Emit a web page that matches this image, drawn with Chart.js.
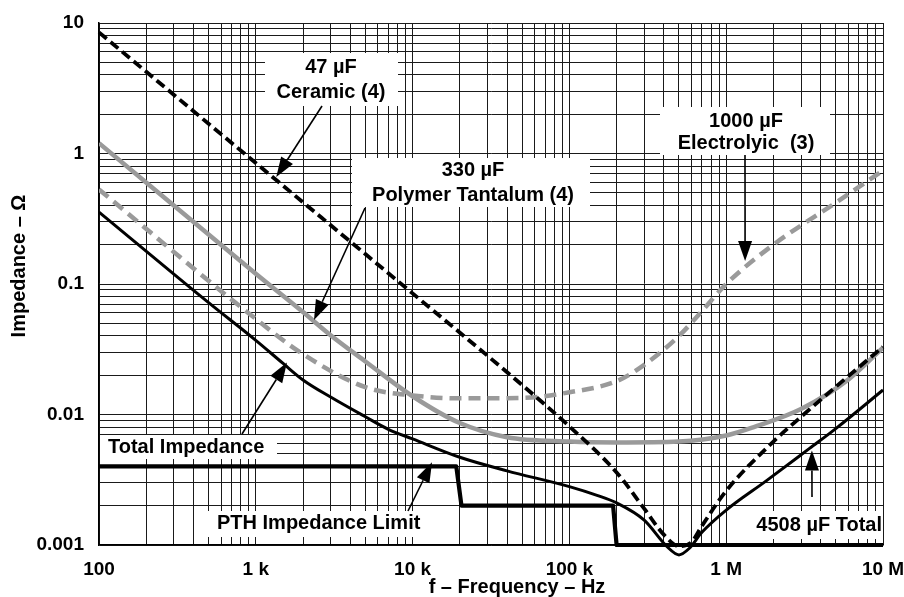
<!DOCTYPE html>
<html>
<head>
<meta charset="utf-8">
<script src="https://cdn.jsdelivr.net/npm/chart.js@4.4.0/dist/chart.umd.min.js"></script>
<style>
  html, body { margin: 0; padding: 0; background: #fff; }
</style>
</head>
<body>
<canvas id="chart" width="904" height="597"></canvas>
<script>
// axis decades and their labels
const xDecades = [100, 1e3, 1e4, 1e5, 1e6, 1e7];
const xTickLabels = ['100', '1 k', '10 k', '100 k', '1 M', '10 M'];
const yDecades = [0.001, 0.01, 0.1, 1, 10];
const yTickLabels = ['0.001', '0.01', '0.1', '1', '10'];

// 47 uF ceramic (4)
const ceramicFreq = [100, 1000, 10000, 50000, 100000, 200000, 300000, 400000, 500000, 600000, 700000, 1000000, 2000000, 3000000, 5000000, 10000000];
const ceramicZ = [8.47, 0.845, 0.0847, 0.0168, 0.0081, 0.0036, 0.0019, 0.0012, 0.00098, 0.00105, 0.0014, 0.0026, 0.0062, 0.0096, 0.0163, 0.033];

// 330 uF polymer tantalum (4)
const tantalumFreq = [100, 1000, 2000, 3000, 5000, 10000, 20000, 40000, 100000, 200000, 500000, 1000000, 1500000, 3000000, 6000000, 10000000];
const tantalumZ = [1.2, 0.12, 0.061, 0.0405, 0.0255, 0.0138, 0.0086, 0.0067, 0.0062, 0.0061, 0.0062, 0.0069, 0.008, 0.011, 0.0185, 0.0325];

// 1000 uF electrolytic (3)
const electroFreq = [100, 1000, 2000, 5000, 10000, 20000, 50000, 100000, 200000, 300000, 500000, 700000, 1000000, 2000000, 5000000, 10000000];
const electroZ = [0.53, 0.054, 0.029, 0.0162, 0.014, 0.0133, 0.0134, 0.0148, 0.018, 0.024, 0.04, 0.062, 0.1, 0.2, 0.42, 0.74];

// 4508 uF total
const totalFreq = [100, 500, 1000, 1500, 2000, 3000, 5000, 7000, 10000, 20000, 40000, 100000, 150000, 200000, 300000, 420000, 500000, 580000, 700000, 1000000, 1800000, 3400000, 5000000, 10000000];
const totalZ = [0.356, 0.072, 0.037, 0.0245, 0.0184, 0.0136, 0.0096, 0.0077, 0.0065, 0.0047, 0.0037, 0.0028, 0.0024, 0.0021, 0.00155, 0.00097, 0.00084, 0.00094, 0.00125, 0.00185, 0.0031, 0.0055, 0.0078, 0.0154];

// PTH impedance limit
const pthFreq = [100, 19000, 20500, 190000, 200000, 10000000];
const pthZ = [0.004, 0.004, 0.002, 0.002, 0.001, 0.001];

const toXY = (fs, zs) => fs.map((f, i) => ({ x: f, y: zs[i] }));

// minor log grid: 1..9 in every decade
function logGrid(decades) {
  const vals = [];
  decades.forEach((d, i) => {
    if (i === decades.length - 1) { vals.push(d); return; }
    for (let m = 1; m < 10; m++) vals.push(Number((m * d).toPrecision(3)));
  });
  return vals;
}

function labelFor(value, decades, labels) {
  const i = decades.findIndex(d => Math.abs(d - value) / d < 1e-6);
  return i >= 0 ? labels[i] : '';
}

const FONT = '"Liberation Sans", Arial, Helvetica, sans-serif';

// annotation boxes (pixel positions) and arrows (tips in data units)
const notes = [
  { lines: ['47 \u00b5F', 'Ceramic (4)'], rect: [265, 53, 133, 53], cx: 331, ys: [67, 92] },
  { lines: ['330 \u00b5F', 'Polymer Tantalum (4)'], rect: [352, 158, 238, 49], cx: 473, ys: [170, 195] },
  { lines: ['1000 \u00b5F', 'Electrolyic  (3)'], rect: [660, 107, 170, 48], cx: 746, ys: [121, 143] },
  { lines: ['Total Impedance'], rect: [100, 435, 177, 24], lx: 108, ys: [447] },
  { lines: ['PTH Impedance Limit'], rect: [205, 511, 232, 26], lx: 217, ys: [523] },
  { lines: ['4508 \u00b5F Total'], rect: [745, 511, 138, 28], rx: 882, ys: [525] }
];
const arrows = [
  { from: [322, 106], f: 1350, z: 0.66 },
  { from: [365, 208], f: 2350, z: 0.053 },
  { from: [745, 155], f: 1320000, z: 0.15 },
  { from: [242, 434], f: 1580, z: 0.025 },
  { from: [408, 511], f: 13300, z: 0.0043 },
  { from: [812, 497], f: 3520000, z: 0.0053 }
];

function drawArrow(ctx, x1, y1, x2, y2) {
  const ang = Math.atan2(y2 - y1, x2 - x1);
  const len = 20, hw = 7;
  const bx = x2 - len * Math.cos(ang), by = y2 - len * Math.sin(ang);
  ctx.beginPath();
  ctx.moveTo(x1, y1);
  ctx.lineTo(bx, by);
  ctx.lineWidth = 1.6;
  ctx.strokeStyle = '#000';
  ctx.stroke();
  ctx.beginPath();
  ctx.moveTo(x2, y2);
  ctx.lineTo(bx + hw * Math.sin(ang), by - hw * Math.cos(ang));
  ctx.lineTo(bx - hw * Math.sin(ang), by + hw * Math.cos(ang));
  ctx.closePath();
  ctx.fillStyle = '#000';
  ctx.fill();
}

const notesPlugin = {
  id: 'notes',
  beforeDatasetsDraw(chart) {
    const ctx = chart.ctx;
    ctx.save();
    ctx.fillStyle = '#fff';
    notes.forEach(n => ctx.fillRect(n.rect[0], n.rect[1], n.rect[2], n.rect[3]));
    ctx.restore();
  },
  afterDatasetsDraw(chart) {
    const ctx = chart.ctx;
    const xs = chart.scales.x, ys = chart.scales.y;
    ctx.save();
    ctx.font = 'bold 20px ' + FONT;
    ctx.fillStyle = '#000';
    ctx.textBaseline = 'middle';
    notes.forEach(n => {
      n.lines.forEach((t, i) => {
        if (n.cx !== undefined) { ctx.textAlign = 'center'; ctx.fillText(t, n.cx, n.ys[i]); }
        else if (n.lx !== undefined) { ctx.textAlign = 'left'; ctx.fillText(t, n.lx, n.ys[i]); }
        else { ctx.textAlign = 'right'; ctx.fillText(t, n.rx, n.ys[i]); }
      });
    });
    arrows.forEach(a => {
      drawArrow(ctx, a.from[0], a.from[1], xs.getPixelForValue(a.f), ys.getPixelForValue(a.z));
    });
    // axis titles
    ctx.textAlign = 'center';
    ctx.fillText('f \u2013 Frequency \u2013 Hz', 517, 587);
    ctx.translate(19, 266);
    ctx.rotate(-Math.PI / 2);
    ctx.fillText('Impedance \u2013 \u03a9', 0, 0);
    ctx.restore();
  }
};

const ctx = document.getElementById('chart').getContext('2d');
new Chart(ctx, {
  type: 'line',
  data: {
    datasets: [
      {
        label: 'PTH Impedance Limit',
        data: toXY(pthFreq, pthZ),
        borderColor: '#000',
        borderWidth: 4.2,
        clip: false
      },
      {
        label: '4508 uF Total',
        data: toXY(totalFreq, totalZ),
        borderColor: '#000',
        borderWidth: 3,
        cubicInterpolationMode: 'monotone',
        clip: false
      },
      {
        label: '47 uF Ceramic (4)',
        data: toXY(ceramicFreq, ceramicZ),
        borderColor: '#000',
        borderWidth: 3.8,
        borderDash: [10, 5],
        cubicInterpolationMode: 'monotone',
        clip: false
      },
      {
        label: '330 uF Polymer Tantalum (4)',
        data: toXY(tantalumFreq, tantalumZ),
        borderColor: '#9a9a9a',
        borderWidth: 4.5,
        cubicInterpolationMode: 'monotone'
      },
      {
        label: '1000 uF Electrolytic (3)',
        data: toXY(electroFreq, electroZ),
        borderColor: '#9a9a9a',
        borderWidth: 4.5,
        borderDash: [12, 7],
        cubicInterpolationMode: 'monotone'
      }
    ]
  },
  options: {
    responsive: false,
    animation: false,
    devicePixelRatio: 1,
    layout: { padding: { top: 23, right: 21, left: 0, bottom: 0 } },
    elements: { point: { radius: 0 }, line: { tension: 0, borderJoinStyle: 'round' } },
    plugins: { legend: { display: false }, tooltip: { enabled: false } },
    scales: {
      x: {
        type: 'logarithmic',
        min: 100,
        max: 1e7,
        afterBuildTicks: s => { s.ticks = logGrid(xDecades).map(v => ({ value: v })); },
        afterFit: s => { s.height = 52; s.paddingLeft = 0; s.paddingRight = 0; },
        ticks: {
          autoSkip: false, maxRotation: 0, padding: 13, color: '#000',
          font: { family: FONT, weight: 'bold', size: 19 },
          callback: v => labelFor(v, xDecades, xTickLabels)
        },
        grid: { color: '#1a1a1a', lineWidth: 1, drawTicks: false },
        border: { color: '#000', width: 1.5 }
      },
      y: {
        type: 'logarithmic',
        min: 0.001,
        max: 10,
        afterBuildTicks: s => { s.ticks = logGrid(yDecades).map(v => ({ value: v })); },
        afterFit: s => { s.width = 99; s.paddingTop = 0; s.paddingBottom = 0; },
        ticks: {
          autoSkip: false, padding: 15, color: '#000',
          font: { family: FONT, weight: 'bold', size: 19 },
          callback: v => labelFor(v, yDecades, yTickLabels)
        },
        grid: { color: '#1a1a1a', lineWidth: 1, drawTicks: false },
        border: { color: '#000', width: 1.5 }
      }
    }
  },
  plugins: [notesPlugin]
});
</script>
</body>
</html>
